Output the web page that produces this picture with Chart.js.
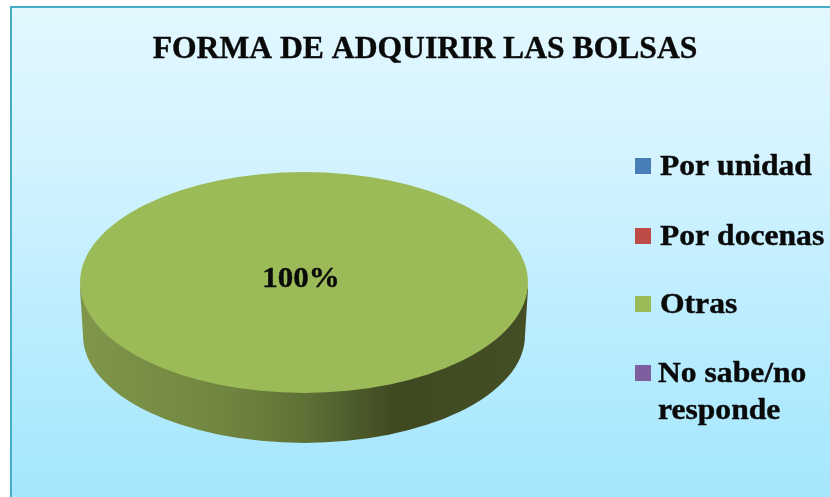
<!DOCTYPE html>
<html>
<head>
<meta charset="utf-8">
<style>
  html,body{margin:0;padding:0;background:#fff;overflow:hidden}
  #wrap{position:relative;width:830px;height:497px;overflow:hidden}
  #frame{position:absolute;left:10px;top:6px;width:840px;height:510px;border:2px solid #46adc9;
    background:linear-gradient(180deg,#e3f8ff 0%,#d3f3ff 30%,#bcedff 60%,#a2e6fd 100%)}
  canvas{position:absolute;left:0;top:0}
</style>
</head>
<body>
<div id="wrap">
  <div id="frame"></div>
  <canvas id="chart" width="830" height="497"></canvas>
</div>
<script src="https://cdn.jsdelivr.net/npm/chart.js@4/dist/chart.umd.min.js"></script>
<script>
(function(){
  const chartTitle = 'FORMA DE ADQUIRIR LAS BOLSAS';
  const categories = ['Por unidad','Por docenas','Otras','No sabe/no responde'];
  const legendLines = [['Por unidad'],['Por docenas'],['Otras'],['No sabe/no','responde']];
  const values = [0,0,100,0];
  const colors = ['#4a7ebb','#be4b48','#9bbb59','#7d5fa0'];

  const FONT = '"Liberation Serif", "Times New Roman", serif';
  const squash = 0.493;   // how flat the disc looks
  const depth = 50;       // side wall height
  const centerY = 282.5;

  // the reference text is a bit stretched sideways
  function wideText(ctx, text, x, y, stretch){
    ctx.save();
    ctx.translate(x,y);
    ctx.scale(stretch,1);
    ctx.fillText(text,0,0);
    ctx.strokeText(text,0,0);
    ctx.restore();
  }

  // Flatten the pie into a disc and give it a shaded side wall
  const discPlugin = {
    id:'disc',
    beforeDatasetsDraw(chart){
      const {ctx} = chart;
      const arc = chart.getDatasetMeta(0).data[2];
      const rx = arc.outerRadius, ry = rx*squash;
      const g = ctx.createLinearGradient(arc.x-rx,0,arc.x+rx,0);
      g.addColorStop(0,'#80964a');
      g.addColorStop(0.33,'#708540');
      g.addColorStop(0.5,'#5f7236');
      g.addColorStop(0.7,'#3f4a22');
      g.addColorStop(1,'#434e25');
      ctx.save();
      ctx.fillStyle = g;
      ctx.beginPath();
      ctx.moveTo(arc.x-rx,centerY+6);
      ctx.lineTo(arc.x-rx+3,centerY+depth+3);
      ctx.ellipse(arc.x,centerY+depth+3,rx-3,ry-3,0,Math.PI,0,true);
      ctx.lineTo(arc.x+rx,centerY+6);
      ctx.closePath();
      ctx.fill();
      ctx.restore();
      ctx.save();
      ctx.translate(0,centerY);
      ctx.scale(1,squash);
      ctx.translate(0,-arc.y);
    },
    afterDatasetsDraw(chart){
      chart.ctx.restore();
    },
    afterDraw(chart){
      const {ctx} = chart;
      const arc = chart.getDatasetMeta(0).data[2];
      ctx.save();
      ctx.fillStyle = '#0a0a0a';
      ctx.strokeStyle = '#0a0a0a';
      ctx.lineWidth = 0.4;
      ctx.textBaseline = 'alphabetic';
      ctx.textAlign = 'center';
      ctx.font = 'bold 31px '+FONT;
      wideText(ctx,chartTitle,425,58,1.02);
      ctx.font = 'bold 29px '+FONT;
      wideText(ctx,values[2]+'%',arc.x-3,287,1.07);

      // legend
      ctx.textAlign = 'left';
      const rows = [175,245,313,382];
      legendLines.forEach((lines,i)=>{
        ctx.fillStyle = colors[i];
        ctx.fillRect(635,rows[i]-17,16,16);
        ctx.fillStyle = '#0a0a0a';
        lines.forEach((t,j)=>{ wideText(ctx,t,i===3?658:660,rows[i]+j*37,1.09); });
      });
      ctx.restore();
    }
  };

  new Chart(document.getElementById('chart').getContext('2d'),{
    type:'pie',
    data:{ labels:categories, datasets:[{ data:values, backgroundColor:colors, borderWidth:0 }]},
    options:{
      responsive:false,
      animation:false,
      layout:{ padding:{ left:80, right:302, top:24, bottom:0 } },
      plugins:{ legend:{display:false}, title:{display:false}, tooltip:{enabled:false} }
    },
    plugins:[discPlugin]
  });
})();
</script>
</body>
</html>
